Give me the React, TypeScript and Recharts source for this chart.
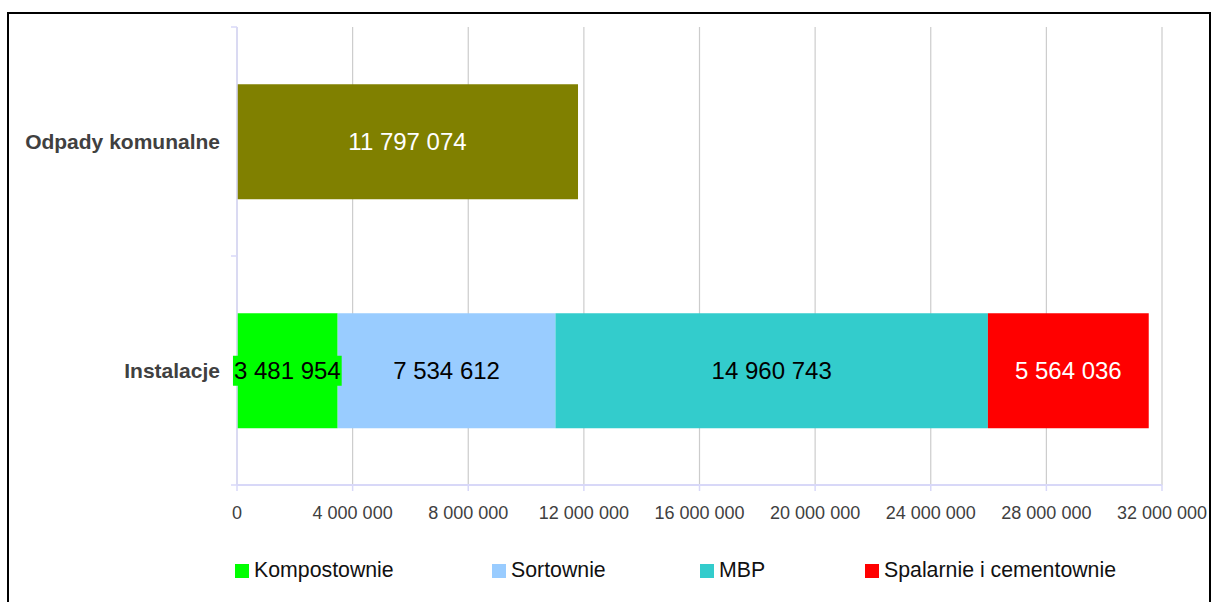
import React from "react";
import { BarChart, Bar, XAxis, YAxis, CartesianGrid, LabelList } from "recharts";

const categories = ["Odpady komunalne", "Instalacje"];
const odpadyKomunalne = [11797074, null];
const kompostownie = [null, 3481954];
const sortownie = [null, 7534612];
const mbp = [null, 14960743];
const spalarnie = [null, 5564036];
const xTicks = [0, 4000000, 8000000, 12000000, 16000000, 20000000, 24000000, 28000000, 32000000];

const series = [
  { key: "odpady", name: "Odpady komunalne", values: odpadyKomunalne, color: "#808000", text: "#ffffff", legend: false, bg: false },
  { key: "kompost", name: "Kompostownie", values: kompostownie, color: "#00ff00", text: "#000000", legend: true, bg: true },
  { key: "sort", name: "Sortownie", values: sortownie, color: "#99ccff", text: "#000000", legend: true, bg: false },
  { key: "mbp", name: "MBP", values: mbp, color: "#33cccc", text: "#000000", legend: true, bg: false },
  { key: "spal", name: "Spalarnie i cementownie", values: spalarnie, color: "#ff0000", text: "#ffffff", legend: true, bg: false },
];

const data = categories.map((name, i) => {
  const row: Record<string, any> = { name };
  series.forEach((s) => (row[s.key] = s.values[i]));
  return row;
});

const FONT = '"Liberation Sans", Arial, sans-serif';
const AXIS = "#d8d8f8";
const W = 1200;
const H = 520;
const MARGIN = { top: 13, right: 47, left: 0, bottom: 9 };
const X_H = 40;
const Y_W = 228;
const PLOT_H = H - MARGIN.top - MARGIN.bottom - X_H;
const BAND = PLOT_H / categories.length;
const Y_TICK = 6;
const Y_GAP = 11;

const fmt = (n: number) => String(n).replace(/\B(?=(\d{3})+(?!\d))/g, " ");

const makeLabel = (fill: string, color: string, bg: boolean) => (props: any) => {
  const { x, y, width, height, value } = props;
  if (value == null || !width) return null;
  const text = fmt(value);
  const cx = x + width / 2;
  const cy = y + height / 2;
  const digits = text.replace(/ /g, "").length;
  const tw = digits * 13.34 + (text.length - digits) * 6.67 + 2;
  return (
    <g>
      {bg && <rect x={cx - tw / 2} y={cy - 15} width={tw} height={30} fill={fill} />}
      <text x={cx} y={cy} textAnchor="middle" dominantBaseline="central" fill={color} fontSize={24} fontFamily={FONT}>
        {text}
      </text>
    </g>
  );
};

const YTick = (props: any) => {
  const { x, y, payload } = props;
  const ax = x + Y_TICK + Y_GAP;
  const last = payload.value === categories[categories.length - 1];
  return (
    <g>
      <line x1={ax - Y_TICK} x2={ax} y1={y - BAND / 2} y2={y - BAND / 2} stroke={AXIS} strokeWidth={1.5} />
      {last && <line x1={ax - Y_TICK} x2={ax} y1={y + BAND / 2} y2={y + BAND / 2} stroke={AXIS} strokeWidth={1.5} />}
      <text x={x} y={y} textAnchor="end" dominantBaseline="central" fill="#404040" fontSize={21} fontWeight="bold" fontFamily={FONT}>
        {payload.value}
      </text>
    </g>
  );
};

const legendWidths = [257, 208, 165, 300];

export default function App() {
  return (
    <div
      style={{
        position: "fixed",
        left: 7,
        top: 12,
        width: 1204,
        height: 600,
        boxSizing: "border-box",
        border: "2px solid #000",
        background: "#fff",
        fontFamily: FONT,
      }}
    >
      <BarChart width={W} height={H} data={data} layout="vertical" margin={MARGIN} barCategoryGap="25%">
        <CartesianGrid horizontal={false} vertical stroke="#cccccc" strokeWidth={1.2} />
        <XAxis
          type="number"
          domain={[0, 32000000]}
          ticks={xTicks}
          tickFormatter={fmt}
          height={X_H}
          interval={0}
          tickSize={6}
          tickMargin={15}
          stroke={AXIS}
          axisLine={{ stroke: AXIS, strokeWidth: 2 }}
          tickLine={{ stroke: AXIS, strokeWidth: 1.5 }}
          tick={{ fill: "#404040", fontSize: 18, fontFamily: FONT }}
        />
        <YAxis
          type="category"
          dataKey="name"
          width={Y_W}
          tickSize={Y_TICK}
          tickMargin={Y_GAP}
          tickLine={false}
          axisLine={{ stroke: AXIS, strokeWidth: 1.5 }}
          tick={<YTick />}
        />
        {series.map((s) => (
          <Bar key={s.key} dataKey={s.key} name={s.name} stackId="a" fill={s.color} isAnimationActive={false}>
            <LabelList dataKey={s.key} content={makeLabel(s.color, s.text, s.bg)} />
          </Bar>
        ))}
      </BarChart>
      <div style={{ position: "absolute", left: 226, top: 544, display: "flex", alignItems: "center" }}>
        {series
          .filter((s) => s.legend)
          .map((s, i) => (
            <div key={s.key} style={{ width: legendWidths[i], display: "flex", alignItems: "center", fontSize: 21.3, color: "#111", lineHeight: "24px", whiteSpace: "nowrap" }}>
              <span style={{ display: "inline-block", width: 14, height: 14, background: s.color, marginRight: 5, marginTop: 2 }} />
              {s.name}
            </div>
          ))}
      </div>
    </div>
  );
}
